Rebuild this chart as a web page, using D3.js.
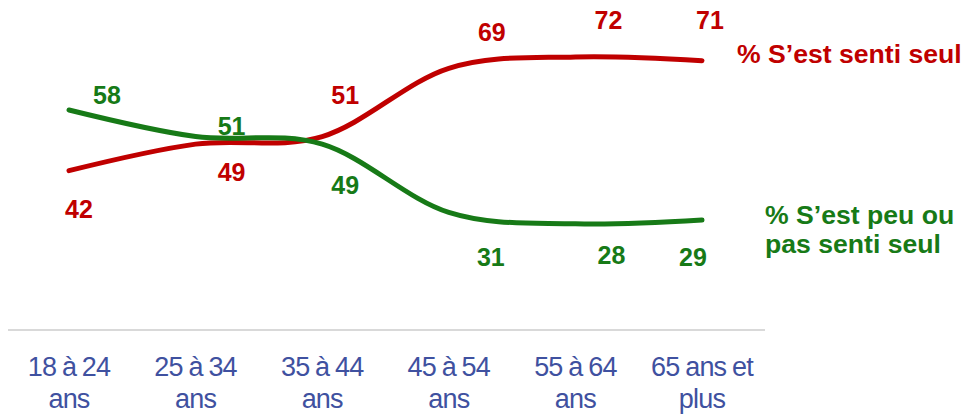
<!DOCTYPE html>
<html>
<head>
<meta charset="utf-8">
<script src="https://cdn.jsdelivr.net/npm/d3@7"></script>
<style>
	body { margin: 0; background: white; }
	svg { display: block; }
</style>
</head>
<body>
<svg id="chart"></svg>
<script>
// age groups (two lines per tick label)
var categories = ["18-24", "25-34", "35-44", "45-54", "55-64", "65+"];
var tickLines = [
	["18 à 24", "ans"],
	["25 à 34", "ans"],
	["35 à 44", "ans"],
	["45 à 54", "ans"],
	["55 à 64", "ans"],
	["65 ans et", "plus"]
];

// % s'est senti seul
var seul = [42, 49, 51, 69, 72, 71];
// % s'est peu ou pas senti seul
var pasSeul = [58, 51, 49, 31, 28, 29];

// hand-placed data labels, offset from their point (dx, dy to baseline)
var seulLabelOffsets = [[10, 47], [36, 37], [23, -33], [43, -27], [33, -28], [8, -32]];
var pasSeulLabelOffsets = [[38, -6], [36, -2], [23, 50], [42, 54], [36, 40], [-9, 46]];

var width = 973;
var height = 414;
var red = "#c00000";
var green = "#177a17";

var svg = d3.select("#chart").attr("width", width).attr("height", height);

var x = d3.scalePoint()
	.domain(categories)
	.range([69, 702]);

var y = d3.scaleLinear()
	.domain([0, 87])
	.range([330, 0]);

// baseline
svg.append("line")
	.attr("x1", 8)
	.attr("x2", 765)
	.attr("y1", y(0))
	.attr("y2", y(0))
	.attr("stroke", "#d9d9d9")
	.attr("stroke-width", 2);

// category labels
var xAxis = svg.append("g")
	.selectAll("text")
	.data(categories)
	.enter()
	.append("text")
	.attr("x", function (d) { return x(d); })
	.attr("y", 376)
	.attr("text-anchor", "middle")
	.attr("fill", "#3f51a0")
	.style("font-family", "'Liberation Sans Narrow', 'Liberation Sans', Arial, sans-serif")
	.style("font-size", "27px")
	.style("letter-spacing", "-0.8px")
	.style("word-spacing", "-1px");

xAxis.each(function (d, i) {
	var t = d3.select(this);
	tickLines[i].forEach(function (line, j) {
		t.append("tspan")
			.attr("x", x(d))
			.attr("dy", j == 0 ? 0 : 32)
			.text(line);
	});
});

var line = d3.line()
	.x(function (d, i) { return x(categories[i]); })
	.y(function (d) { return y(d); })
	.curve(d3.curveCardinal.tension(0));

function drawSeries(values, offsets, color) {
	svg.append("path")
		.datum(values)
		.attr("d", line)
		.attr("fill", "none")
		.attr("stroke", color)
		.attr("stroke-width", 5)
		.attr("stroke-linecap", "round");

	svg.append("g")
		.selectAll("text")
		.data(values)
		.enter()
		.append("text")
		.attr("x", function (d, i) { return x(categories[i]) + offsets[i][0]; })
		.attr("y", function (d, i) { return y(d) + offsets[i][1]; })
		.attr("text-anchor", "middle")
		.attr("fill", color)
		.style("font-family", "'Liberation Sans', Arial, sans-serif")
		.style("font-weight", "bold")
		.style("font-size", "25px")
		.text(function (d) { return d; });
}

drawSeries(seul, seulLabelOffsets, red);
drawSeries(pasSeul, pasSeulLabelOffsets, green);

// series names at the end of the lines
var legendFont = "'Liberation Sans', Arial, sans-serif";

svg.append("text")
	.attr("x", 737)
	.attr("y", 63)
	.attr("fill", red)
	.style("font-family", legendFont)
	.style("font-weight", "bold")
	.style("font-size", "26.6px")
	.text("% S’est senti seul");

var legend2 = svg.append("text")
	.attr("x", 765)
	.attr("y", 224)
	.attr("fill", green)
	.style("font-family", legendFont)
	.style("font-weight", "bold")
	.style("font-size", "26.6px");
legend2.append("tspan").attr("x", 765).attr("dy", 0).text("% S’est peu ou");
legend2.append("tspan").attr("x", 765).attr("dy", 29).text("pas senti seul");
</script>
</body>
</html>
